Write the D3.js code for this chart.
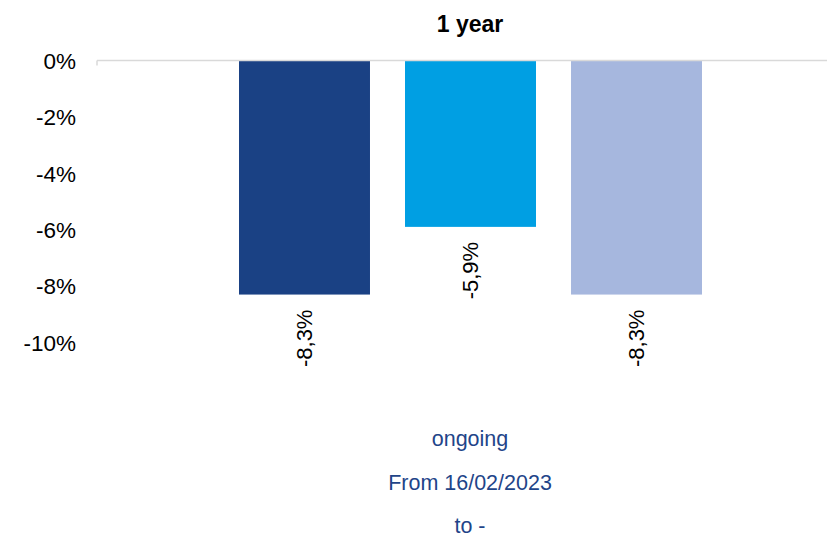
<!DOCTYPE html>
<html>
<head>
<meta charset="utf-8">
<script src="https://cdn.jsdelivr.net/npm/d3@7"></script>
<style>
  html, body { margin: 0; padding: 0; background: #fff; }
  svg { display: block; font-family: "Liberation Sans", Arial, sans-serif; }
</style>
</head>
<body>
<svg id="chart" width="827" height="538"></svg>
<script>
// Performance over the period, one bar per series
const series = ["Fund", "Benchmark", "Category"];
const values = [-8.3, -5.9, -8.3];
const colors = ["#1a4184", "#009fe3", "#a6b7de"];
const yTicks = [0, -2, -4, -6, -8, -10];
const title = "1 year";
const periodLines = ["ongoing", "From 16/02/2023", "to -"];

const svg = d3.select("#chart");

// plain hyphen for negatives, comma as decimal separator
const locale = d3.formatLocale({ decimal: ",", thousands: ".", grouping: [3], currency: ["", "€"], minus: "-" });
const fmtValue = v => locale.format(".1f")(v) + "%";

// value scale: 0% at the top, -10% at the bottom
const y = d3.scaleLinear().domain([0, -10]).range([60.5, 342.5]);

// bars grouped around the centre of the plot area
const plotLeft = 97, plotRight = 844;
const x = d3.scaleBand()
  .domain(series)
  .range([239, 702])
  .paddingInner(0.211)
  .paddingOuter(0);

// title
svg.append("text")
  .attr("x", 470)
  .attr("y", 31.5)
  .attr("text-anchor", "middle")
  .attr("font-size", 23)
  .attr("font-weight", "bold")
  .attr("fill", "#000")
  .text(title);

// y axis labels (no axis line, just the labels)
const yAxis = d3.axisLeft(y)
  .tickValues(yTicks)
  .tickSize(0)
  .tickPadding(0)
  .tickFormat(d => locale.format("d")(d) + "%");
const gy = svg.append("g").attr("transform", "translate(76,0)").call(yAxis);
gy.select(".domain").remove();
gy.attr("font-size", null).attr("font-family", null);
gy.selectAll("text")
  .attr("font-size", 22.5)
  .attr("fill", "#000")
  .attr("dy", "0.35em");

// bars
svg.append("g").selectAll("rect")
  .data(values)
  .join("rect")
  .attr("x", (d, i) => x(series[i]))
  .attr("y", y(0))
  .attr("width", x.bandwidth())
  .attr("height", d => y(d) - y(0))
  .attr("fill", (d, i) => colors[i]);

// zero line with its small tick
svg.append("line")
  .attr("x1", plotLeft).attr("x2", plotRight)
  .attr("y1", y(0)).attr("y2", y(0))
  .attr("stroke", "#d9d9d9").attr("stroke-width", 1.5);
svg.append("line")
  .attr("x1", plotLeft).attr("x2", plotLeft)
  .attr("y1", y(0)).attr("y2", y(0) + 5)
  .attr("stroke", "#d9d9d9").attr("stroke-width", 1.5);

// value labels, rotated, just below each bar
svg.append("g").selectAll("text")
  .data(values)
  .join("text")
  .attr("transform", (d, i) =>
    `translate(${x(series[i]) + x.bandwidth() / 2},${y(d) + 15}) rotate(-90)`)
  .attr("text-anchor", "end")
  .attr("dy", "0.35em")
  .attr("font-size", 22)
  .attr("fill", "#000")
  .text(fmtValue);

// period description
svg.append("g").selectAll("text")
  .data(periodLines)
  .join("text")
  .attr("x", 470)
  .attr("y", (d, i) => 446 + i * 43.5)
  .attr("text-anchor", "middle")
  .attr("font-size", 21.5)
  .attr("fill", "#1f4589")
  .text(d => d);
</script>
</body>
</html>
